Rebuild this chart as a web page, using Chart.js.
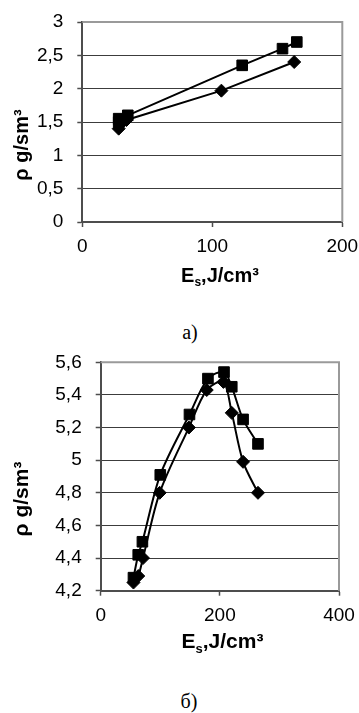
<!DOCTYPE html>
<html lang="ru">
<head>
<meta charset="UTF-8">
<script src="https://cdn.jsdelivr.net/npm/chart.js"></script>
<style>
    body { margin: 0; background: #fff; width: 359px; height: 713px; position: relative; overflow: hidden; }
    .box { position: absolute; left: 0; width: 359px; }
    .cap { position: absolute; transform: translate(-50%, -50%); font-family: "Liberation Serif", "Times New Roman", serif; font-size: 20px; color: #000; }
</style>
</head>
<body>

<div class="box" style="top:0;height:300px"><canvas id="chartA" width="359" height="300"></canvas></div>
<div class="cap" style="left:190px;top:332px">а)</div>
<div class="box" style="top:330px;height:330px"><canvas id="chartB" width="359" height="330"></canvas></div>
<div class="cap" style="left:189px;top:701px">б)</div>

<script>
// chart a
const aSquareX = [28, 28, 35, 123, 154, 165];
const aSquareY = [1.50, 1.55, 1.60, 2.35, 2.60, 2.70];
const aDiamondX = [28, 29, 34, 107, 163];
const aDiamondY = [1.40, 1.46, 1.53, 1.97, 2.40];
const aTicksX = [0, 100, 200];
const aTicksY = [0, 0.5, 1, 1.5, 2, 2.5, 3];

// chart b
const bSquareX = [55, 63, 70, 100, 149, 180, 207, 220, 239, 264];
const bSquareY = [4.28, 4.42, 4.50, 4.91, 5.28, 5.50, 5.54, 5.45, 5.25, 5.10];
const bDiamondX = [55, 63, 71, 99, 148, 178, 206, 220, 239, 264];
const bDiamondY = [4.25, 4.29, 4.40, 4.80, 5.20, 5.43, 5.48, 5.29, 4.99, 4.80];
const bTicksX = [0, 200, 400];
const bTicksY = [4.2, 4.4, 4.6, 4.8, 5, 5.2, 5.4, 5.6];

const xTitle = ['E', 's', ',J/cm³'];
const yTitle = 'ρ g/sm³';

Chart.defaults.font.family = '"Liberation Sans", Arial, sans-serif';
Chart.defaults.color = '#000';

function toPoints(xs, ys) {
    return xs.map(function (x, i) { return { x: x, y: ys[i] }; });
}

function fmt(v) {
    return (Math.round(v * 10) / 10).toString().replace('.', ',');
}

// grey frame on top/right + axis titles (subscript needs manual drawing)
function titlesPlugin(t) {
    return {
        id: 'titles',
        beforeDatasetsDraw(chart) {
            const ctx = chart.ctx, a = chart.chartArea;
            ctx.save();
            ctx.strokeStyle = '#9a9a9a';
            ctx.lineWidth = 2;
            ctx.beginPath();
            ctx.moveTo(a.left, a.top);
            ctx.lineTo(a.right, a.top);
            ctx.lineTo(a.right, a.bottom);
            ctx.stroke();
            ctx.restore();
        },
        afterDraw(chart) {
            const ctx = chart.ctx;
            const big = 'bold ' + t.size + 'px "Liberation Sans", Arial, sans-serif';
            const small = 'bold ' + Math.round(t.size * 0.62) + 'px "Liberation Sans", Arial, sans-serif';
            ctx.save();
            ctx.fillStyle = '#000';
            ctx.textBaseline = 'alphabetic';
            ctx.textAlign = 'left';
            ctx.font = big;
            const w0 = ctx.measureText(xTitle[0]).width;
            const w2 = ctx.measureText(xTitle[2]).width;
            ctx.font = small;
            const w1 = ctx.measureText(xTitle[1]).width;
            let x = t.xCenter - (w0 + w1 + w2) / 2;
            ctx.font = big;
            ctx.fillText(xTitle[0], x, t.xBase);
            ctx.font = small;
            ctx.fillText(xTitle[1], x + w0, t.xBase + t.size * 0.22);
            ctx.font = big;
            ctx.fillText(xTitle[2], x + w0 + w1, t.xBase);

            ctx.translate(t.yBase, t.yCenter);
            ctx.rotate(-Math.PI / 2);
            ctx.textAlign = 'center';
            ctx.font = big;
            ctx.fillText(yTitle, 0, 0);
            ctx.restore();
        }
    };
}

function makeChart(id, sq, dm, xr, yr, box, smooth, t) {
    const gridColor = function (c) {
        return c.tick && Math.abs(c.tick.value - yr.max) < 1e-6 ? '#9a9a9a' : '#3c3c3c';
    };
    const config = {
        type: 'scatter',
        data: {
            datasets: [{
                data: sq,
                showLine: true,
                borderColor: '#000',
                borderWidth: 2,
                tension: smooth,
                pointStyle: 'rect',
                pointRadius: 7.5,
                pointBackgroundColor: '#000',
                pointBorderColor: '#000',
                pointBorderWidth: 1
            }, {
                data: dm,
                showLine: true,
                borderColor: '#000',
                borderWidth: 2,
                tension: smooth,
                pointStyle: 'rectRot',
                pointRadius: 6.5,
                pointBackgroundColor: '#000',
                pointBorderColor: '#000',
                pointBorderWidth: 1
            }]
        },
        options: {
            responsive: false,
            animation: false,
            layout: { padding: box.padding },
            plugins: { legend: { display: false }, tooltip: { enabled: false } },
            scales: {
                x: {
                    type: 'linear',
                    min: xr.min, max: xr.max,
                    afterBuildTicks: function (s) { s.ticks = xr.ticks.map(function (v) { return { value: v }; }); },
                    afterFit: function (s) { s.height = box.xHeight; s.paddingLeft = 0; s.paddingRight = 0; },
                    ticks: { font: { size: 19 }, padding: 8.5, maxRotation: 0, autoSkip: false },
                    grid: { drawOnChartArea: false, drawTicks: true, tickLength: 5, tickColor: '#4d4d4d', tickWidth: 1.5 },
                    border: { color: '#4d4d4d', width: 2 }
                },
                y: {
                    type: 'linear',
                    min: yr.min, max: yr.max,
                    afterBuildTicks: function (s) { s.ticks = yr.ticks.map(function (v) { return { value: v }; }); },
                    afterFit: function (s) { s.width = box.yWidth; s.paddingTop = 0; s.paddingBottom = 0; },
                    ticks: { font: { size: 19 }, padding: 14, autoSkip: false, callback: fmt },
                    grid: { color: gridColor, lineWidth: 1, drawTicks: true, tickLength: 5, tickColor: '#4d4d4d', tickWidth: 1.5 },
                    border: { color: '#4d4d4d', width: 2 }
                }
            }
        },
        plugins: [titlesPlugin(t)]
    };
    return new Chart(document.getElementById(id).getContext('2d'), config);
}

makeChart('chartA',
    toPoints(aSquareX, aSquareY), toPoints(aDiamondX, aDiamondY),
    { min: 0, max: 200, ticks: aTicksX },
    { min: 0, max: 3, ticks: aTicksY },
    { padding: { left: 0, right: 16.7, top: 22, bottom: 20 }, yWidth: 82.3, xHeight: 58 },
    0,
    { size: 20, xCenter: 220, xBase: 282, yBase: 27.7, yCenter: 145 });

makeChart('chartB',
    toPoints(bSquareX, bSquareY), toPoints(bDiamondX, bDiamondY),
    { min: 0, max: 400, ticks: bTicksX },
    { min: 4.2, max: 5.6, ticks: bTicksY },
    { padding: { left: 0, right: 20, top: 32.3, bottom: 19.3 }, yWidth: 100.7, xHeight: 50 },
    0.3,
    { size: 21, xCenter: 222.5, xBase: 318, yBase: 28, yCenter: 169 });
</script>
</body>
</html>
